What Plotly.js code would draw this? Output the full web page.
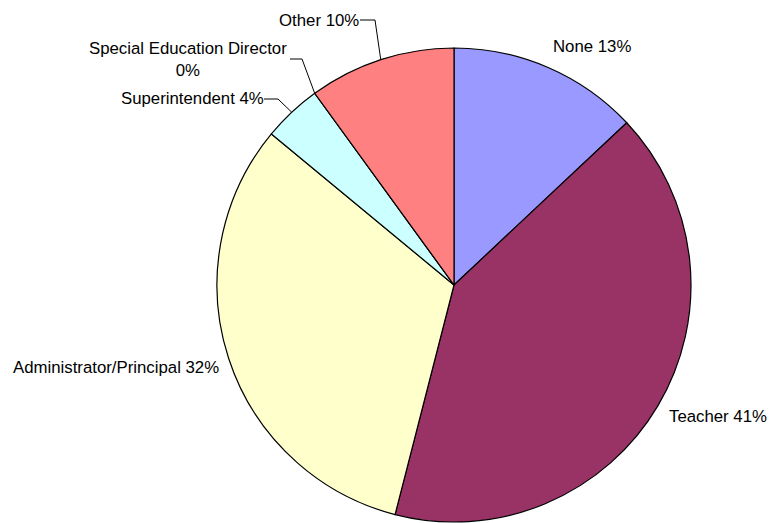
<!DOCTYPE html>
<html>
<head>
<meta charset="utf-8">
<script src="https://cdn.plot.ly/plotly-3.0.1.min.js"></script>
<style>html,body{margin:0;padding:0;background:#fff;}#chart{width:770px;height:523px;}</style>
</head>
<body>
<div id="chart"></div>
<script>
// ---- data ----
var categories = ["None", "Teacher", "Administrator/Principal", "Superintendent", "Special Education Director", "Other"];
var values = [13, 41, 32, 4, 0, 10];
var colors = ["#9999FF", "#993366", "#FFFFCC", "#CCFFFF", "#FFCC99", "#FF8080"];

// ---- layout geometry (pixels) ----
var W = 770, H = 523;
var CX = 454, CY = 285, R = 237;
// label placement: [anchorX, centerY, xanchor, leader elbow points or null]
var labelPos = [
  {x: 552, y: 46, xa: "left", lead: null},
  {x: 668, y: 416, xa: "left", lead: null},
  {x: 12, y: 367, xa: "left", lead: null},
  {x: 120, y: 99, xa: "left", lead: [[264, 99], [278, 99]]},
  {x: 187.5, y: 59, xa: "center", lead: [[290, 59], [302, 59]], br: true},
  {x: 278, y: 21, xa: "left", lead: [[360, 20], [375, 20]]}
];

var total = values.reduce(function(a, b){ return a + b; }, 0);
function px(x){ return x / W; }
function py(y){ return 1 - y / H; }

var annotations = [];
var shapes = [];
var cum = 0;
for (var i = 0; i < categories.length; i++) {
  var pct = Math.round(values[i] / total * 100) + "%";
  var lp = labelPos[i];
  var txt = categories[i] + (lp.br ? "<br>" : " ") + pct;
  annotations.push({
    xref: "paper", yref: "paper", x: px(lp.x), y: py(lp.y),
    xanchor: lp.xa, yanchor: "middle", showarrow: false, align: "center",
    text: txt, borderpad: 0,
    font: {family: "Liberation Sans, Arial, sans-serif", size: 16.8, color: "#000"}
  });
  var mid = (cum + values[i] / 2) / total * 2 * Math.PI;
  cum += values[i];
  if (lp.lead) {
    var ex = CX + R * Math.sin(mid), ey = CY - R * Math.cos(mid);
    var p = "M " + px(lp.lead[0][0]) + " " + py(lp.lead[0][1]) +
            " L " + px(lp.lead[1][0]) + " " + py(lp.lead[1][1]) +
            " L " + px(ex) + " " + py(ey);
    shapes.push({type: "path", xref: "paper", yref: "paper", path: p,
                 line: {color: "#000", width: 1}});
  }
}

var trace = {
  type: "pie",
  labels: categories,
  values: values,
  sort: false,
  direction: "clockwise",
  rotation: 0,
  textinfo: "none",
  hoverinfo: "label+percent",
  marker: {colors: colors, line: {color: "#000", width: 1.2}},
  domain: {x: [(CX - R) / W, (CX + R) / W], y: [1 - (CY + R) / H, 1 - (CY - R) / H]},
  showlegend: false
};

var layout = {
  width: W, height: H,
  margin: {l: 0, r: 0, t: 0, b: 0},
  paper_bgcolor: "#fff",
  showlegend: false,
  annotations: annotations,
  shapes: shapes
};

Plotly.newPlot("chart", [trace], layout, {staticPlot: true, displayModeBar: false});
</script>
</body>
</html>
